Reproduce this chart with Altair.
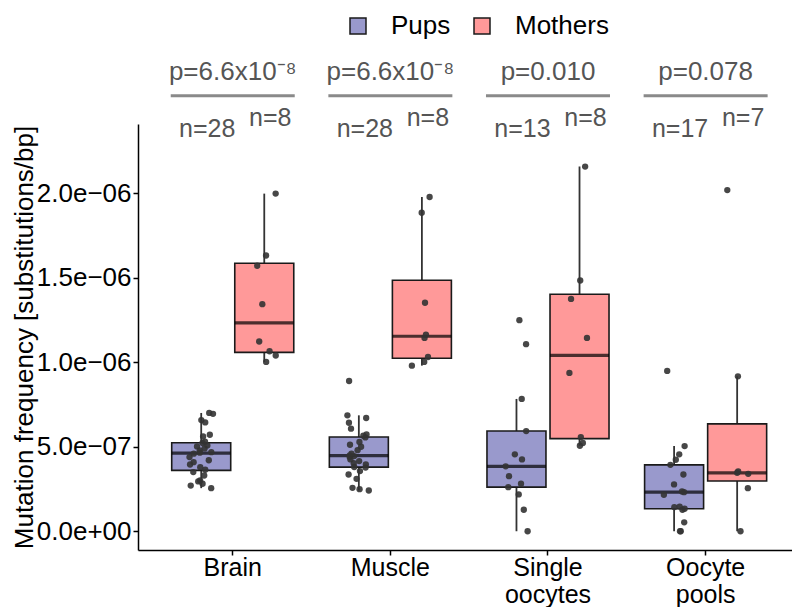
import altair as alt
import pandas as pd

FONT = "Liberation Sans"

# ---- data (mutation frequency, in units of 1e-7 substitutions/bp) ----
tissues = ["Brain", "Muscle", "Single oocytes", "Oocyte pools"]
groups = ["Pups", "Mothers"]

brain_pups = [2.55, 2.70, 2.81, 2.95, 3.01, 3.30, 3.50, 3.64, 3.79, 3.95, 4.09, 4.20, 4.39, 4.59,
              4.65, 4.68, 4.78, 4.90, 5.02, 5.08, 5.22, 5.30, 5.61, 5.71, 6.44, 6.58, 6.95, 7.00]
brain_mothers = [10.02, 10.40, 10.65, 11.23, 13.44, 15.71, 16.32, 19.98]
muscle_pups = [2.41, 2.49, 2.57, 3.10, 3.36, 3.56, 3.77, 3.80, 3.95, 4.03, 4.15, 4.25, 4.39, 4.45,
               4.49, 4.59, 4.80, 5.00, 5.12, 5.28, 5.55, 5.65, 5.73, 6.07, 6.42, 6.70, 6.86, 8.89]
muscle_mothers = [9.80, 10.02, 10.31, 11.44, 11.64, 13.52, 18.85, 19.78]
single_pups = [0.0, 1.27, 2.18, 2.61, 2.81, 3.26, 3.84, 4.25, 4.55, 5.93, 7.83, 11.07, 12.49]
single_mothers = [5.06, 5.22, 5.57, 9.37, 11.44, 13.75, 14.84, 21.58]
pools_pups = [0.0, 0.0, 0.53, 1.27, 1.33, 1.42, 1.46, 2.16, 2.31, 2.35, 2.77, 3.36, 3.93, 4.23,
              4.55, 5.04, 9.49]
pools_mothers = [0.0, 2.55, 3.40, 3.46, 3.54, 9.17, 20.19]

p_labels = ["p=6.6x10\u207b\u2078", "p=6.6x10\u207b\u2078", "p=0.010", "p=0.078"]

series = {
    ("Brain", "Pups"): brain_pups, ("Brain", "Mothers"): brain_mothers,
    ("Muscle", "Pups"): muscle_pups, ("Muscle", "Mothers"): muscle_mothers,
    ("Single oocytes", "Pups"): single_pups, ("Single oocytes", "Mothers"): single_mothers,
    ("Oocyte pools", "Pups"): pools_pups, ("Oocyte pools", "Mothers"): pools_mothers,
}
rows = []
for (t, g), vals in series.items():
    for v in vals:
        rows.append({"tissue": t, "group": g, "value": v * 1e-7})
df = pd.DataFrame(rows)
ann = pd.DataFrame({"tissue": tissues, "p": p_labels})

# ---- scales / encodings ----
X = alt.X("tissue:N",
          scale=alt.Scale(domain=tissues, paddingInner=0, paddingOuter=0.0745, align=0.678),
          axis=alt.Axis(title=None, labelAngle=0, labelExpr="split(datum.label, ' ')",
                        labelFontSize=25, labelFont=FONT, labelColor="black", labelPadding=0,
                        labelLineHeight=27, tickSize=5, tickColor="black", tickWidth=1.5,
                        domainColor="black", domainWidth=1.5))
YS = alt.Scale(domain=[-1.11e-7, 2.41e-6], nice=False, zero=False)
YAXIS = alt.Axis(
    title="Mutation frequency [substitutions/bp]", titleFontSize=26, titleFont=FONT,
    titleFontWeight="normal", titleColor="black", titleBaseline="alphabetic", titleX=-106,
    values=[0, 5e-7, 1e-6, 1.5e-6, 2e-6],
    labelExpr="datum.value == 0 ? '0.0e+00' : format(datum.value / pow(10, floor(log(datum.value) / LN10 + 1e-9)), '.1f') + 'e\u2212' + format(-floor(log(datum.value) / LN10 + 1e-9), '02d')",
    labelFontSize=26, labelFont=FONT, labelColor="black", labelPadding=2,
    tickSize=5, tickColor="black", tickWidth=1.5, domainColor="black", domainWidth=1.5)
XO_SCALE = alt.Scale(domain=[-0.5, 0.5])

stats = (alt.Chart(df)
         .transform_joinaggregate(q1="q1(value)", q3="q3(value)", med="median(value)",
                                  groupby=["tissue", "group"])
         .transform_calculate(lo="datum.q1 - 1.5 * (datum.q3 - datum.q1)",
                              hi="datum.q3 + 1.5 * (datum.q3 - datum.q1)")
         .transform_filter("datum.value >= datum.lo && datum.value <= datum.hi")
         .transform_aggregate(wmin="min(value)", wmax="max(value)", q1="max(q1)",
                              q3="max(q3)", med="max(med)", groupby=["tissue", "group"])
         .transform_calculate(off="datum.group == 'Pups' ? -0.2 : 0.2"))

XO = alt.XOffset("off:Q", scale=XO_SCALE)

whisker = stats.mark_rule(color="#333333", strokeWidth=1.8).encode(
    x=X, xOffset=XO, y=alt.Y("wmin:Q", scale=YS, axis=YAXIS), y2="wmax:Q")

box = stats.mark_bar(width=59, stroke="#1a1a1a", strokeWidth=1.6).encode(
    x=X, xOffset=XO, y=alt.Y("q1:Q", scale=YS), y2="q3:Q",
    fill=alt.Fill("group:N",
                  scale=alt.Scale(domain=groups, range=["#9999CC", "#FF9999"]),
                  legend=alt.Legend(title=None, orient="none", legendX=207, legendY=-111,
                                    direction="horizontal", symbolType="square",
                                    symbolSize=256, symbolStrokeColor="#1a1a1a",
                                    symbolStrokeWidth=1.5, labelFontSize=26, labelFont=FONT,
                                    labelColor="black", labelOffset=20, columnPadding=18,
                                    gridAlign="none", padding=0)))

median = stats.mark_tick(size=59, thickness=3.2, color="black").encode(
    x=X, xOffset=XO, y=alt.Y("med:Q", scale=YS))

points = (alt.Chart(df)
          .transform_window(i="row_number()")
          .transform_calculate(
              xo="(datum.group == 'Pups' ? -0.2 : 0.2) + ((abs(sin(datum.i * 12.9898) * 43758.5453) % 1) - 0.5) * 0.15")
          .mark_circle(size=40, color="#333333", opacity=0.9)
          .encode(x=X, xOffset=alt.XOffset("xo:Q", scale=XO_SCALE),
                  y=alt.Y("value:Q", scale=YS)))

ptext = alt.Chart(ann).mark_text(fontSize=26, font=FONT, color="#555555").encode(
    x=X, y=alt.datum(2.715e-6), text="p:N")

pline = alt.Chart(ann).mark_tick(size=124, thickness=3, color="#595959").encode(
    x=X, y=alt.datum(2.577e-6))

ntext = (alt.Chart(df)
         .transform_aggregate(n="count()", groupby=["tissue", "group"])
         .transform_calculate(off="datum.group == 'Pups' ? -0.2 : 0.2",
                              ny="datum.group == 'Pups' ? 2.378e-6 : 2.443e-6",
                              label="'n=' + datum.n")
         .mark_text(fontSize=25, font=FONT, color="#555555", dx=6)
         .encode(x=X, xOffset=XO, y=alt.Y("ny:Q", scale=YS), text="label:N"))

chart = (alt.layer(whisker, box, median, points, pline, ptext, ntext)
         .properties(width=654, height=426,
                     autosize=alt.AutoSizeParams(type="none"),
                     padding={"left": 130, "top": 116, "right": 0, "bottom": 57})
         .configure_view(stroke=None)
         .configure_axis(grid=False))

chart.save("out.html", embed_options={"renderer": "svg", "actions": False})
